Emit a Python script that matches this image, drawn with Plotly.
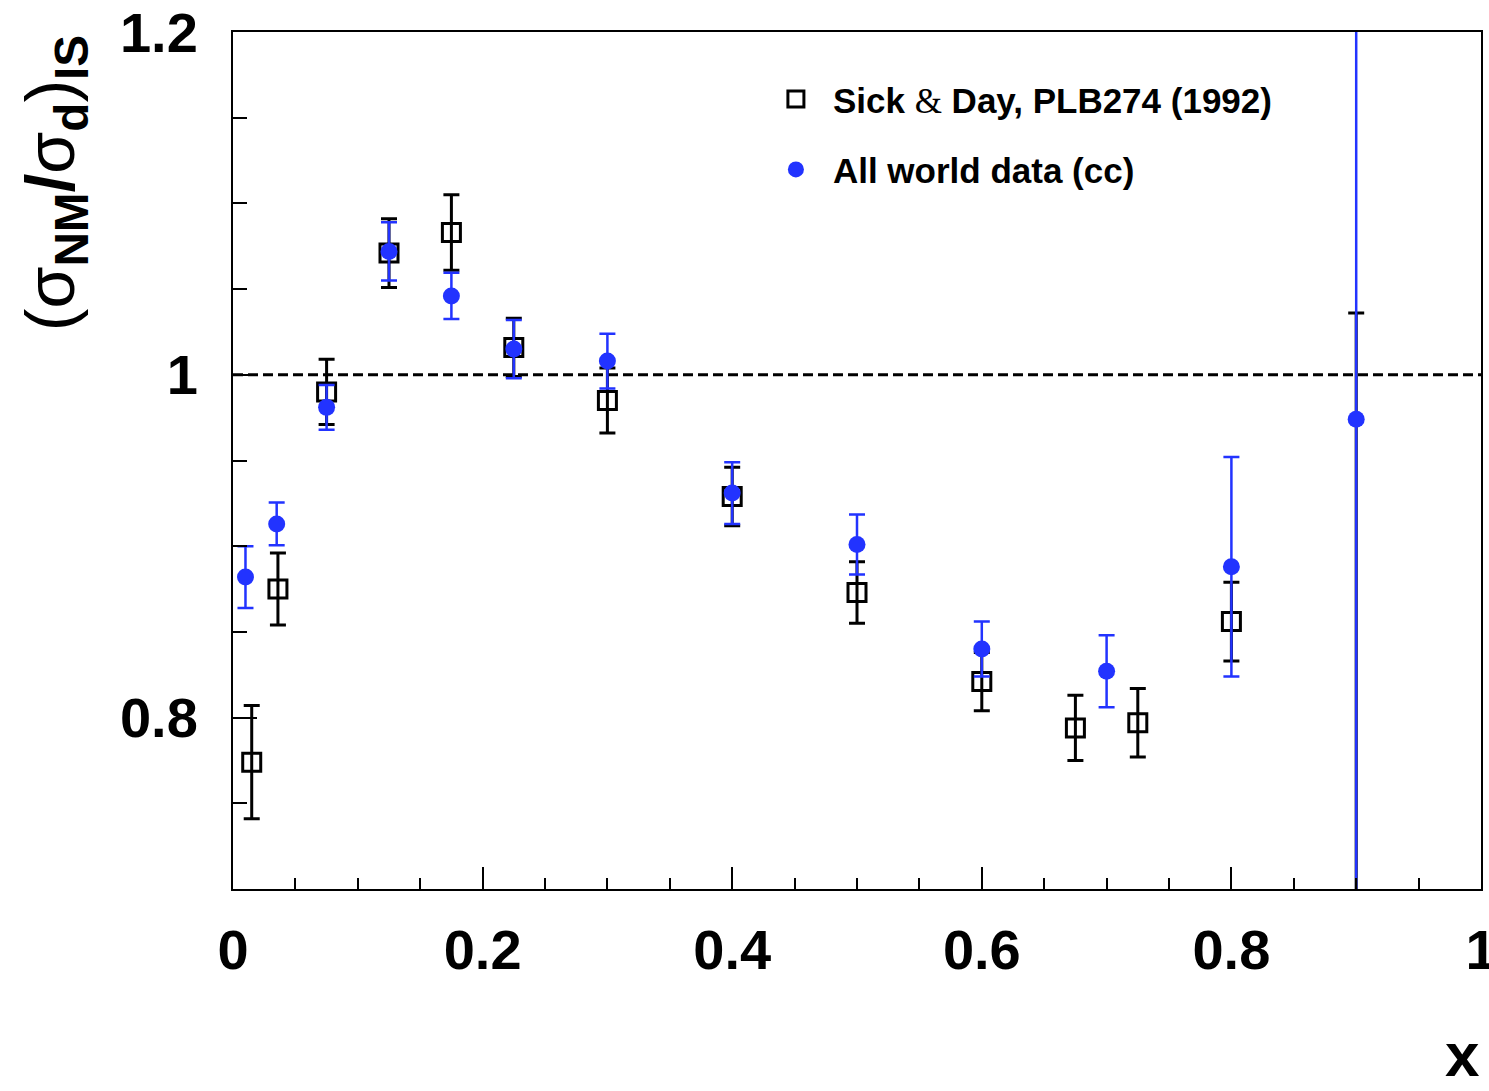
import plotly.graph_objects as go

# Sick & Day, PLB274 (1992)
sd_x = [0.015, 0.036, 0.075, 0.125, 0.175, 0.225, 0.30, 0.40, 0.50, 0.60, 0.675, 0.725, 0.80, 0.90]
sd_y = [0.774, 0.875, 0.990, 1.071, 1.083, 1.016, 0.985, 0.929, 0.873, 0.821, 0.794, 0.797, 0.856, 0.66]
sd_err = [0.033, 0.021, 0.019, 0.020, 0.022, 0.017, 0.019, 0.017, 0.018, 0.017, 0.019, 0.020, 0.023, 0.376]

# All world data (cc)
wd_x = [0.01, 0.035, 0.075, 0.125, 0.175, 0.225, 0.30, 0.40, 0.50, 0.60, 0.70, 0.80, 0.90]
wd_y = [0.882, 0.913, 0.981, 1.072, 1.046, 1.015, 1.008, 0.931, 0.901, 0.840, 0.827, 0.888, 0.974]
wd_err = [0.018, 0.0125, 0.013, 0.017, 0.0135, 0.017, 0.016, 0.018, 0.0175, 0.016, 0.021, 0.064, 0.40]

x_ticks = [0, 0.2, 0.4, 0.6, 0.8, 1]
x_ticklabels = ["0", "0.2", "0.4", "0.6", "0.8", "1"]
y_ticks = [0.8, 1.0, 1.2]
y_ticklabels = ["0.8", "1", "1.2"]

BLUE = "#2233ff"
FONT = "Liberation Sans"

fig = go.Figure()
fig.add_trace(go.Scatter(
    x=sd_x, y=sd_y, mode="markers",
    name="Sick <span style=\"font-family:'Liberation Serif';font-weight:normal\">&amp;</span> Day, PLB274 (1992)",
    legendgroup="a",
    marker=dict(symbol="square-open", size=18, color="black", line=dict(width=3, color="black")),
    error_y=dict(type="data", array=sd_err, color="black", thickness=3, width=8),
))
fig.add_trace(go.Scatter(
    x=wd_x, y=wd_y, mode="markers", name="All world data (cc)",
    legendgroup="b",
    marker=dict(symbol="circle", size=17, color=BLUE),
    error_y=dict(type="data", array=wd_err, color=BLUE, thickness=2.5, width=8),
))

fig.add_shape(type="line", xref="x", yref="y", x0=0, x1=1, y0=1, y1=1,
              line=dict(color="black", width=3, dash="10px,5px"), layer="below")

fig.update_layout(
    width=1489, height=1091,
    margin=dict(l=233, r=8, t=32, b=202),
    paper_bgcolor="white", plot_bgcolor="white",
    font=dict(family=FONT, color="black"),
    showlegend=True,
    legend=dict(x=0.4214, y=0.956, xanchor="left", yanchor="top",
                font=dict(family=FONT, size=35, color="black", weight="bold"),
                bgcolor="rgba(0,0,0,0)", borderwidth=0,
                tracegroupgap=22, traceorder="grouped", itemwidth=64),
)
fig.update_xaxes(range=[0, 1], tickvals=x_ticks, ticktext=x_ticklabels,
                 ticks="inside", ticklen=22, tickwidth=1.5, tickcolor="black",
                 minor=dict(dtick=0.05, ticks="inside", ticklen=11, tickwidth=1.5, tickcolor="black"),
                 showline=True, linewidth=2, linecolor="black", mirror=True,
                 showgrid=False, zeroline=False, automargin=False,
                 ticklabeloverflow="allow",
                 tickfont=dict(family=FONT, size=56, color="black", weight="bold"),
                 ticklabelstandoff=11)
fig.update_yaxes(range=[0.7, 1.2], tickvals=y_ticks, ticktext=y_ticklabels,
                 ticks="inside", ticklen=24, tickwidth=1.5, tickcolor="black",
                 minor=dict(dtick=0.05, ticks="inside", ticklen=14, tickwidth=1.5, tickcolor="black"),
                 showline=True, linewidth=2, linecolor="black", mirror=True,
                 showgrid=False, zeroline=False, automargin=False,
                 ticklabeloverflow="allow",
                 tickfont=dict(family=FONT, size=56, color="black", weight="bold"),
                 ticklabelstandoff=22)

fig.add_annotation(xref="paper", yref="paper", x=-0.143, y=0.823,
                   text="(σ<sub><b>NM</b></sub><b>/</b>σ<sub><b>d</b></sub>)<sub><b>IS</b></sub>",
                   textangle=-90, showarrow=False, xanchor="center", yanchor="middle",
                   font=dict(family=FONT, size=68, color="black"))
fig.add_annotation(xref="paper", yref="paper", x=0.985, y=-0.236,
                   text="<b>x</b>", showarrow=False, xanchor="center", yanchor="bottom",
                   font=dict(family=FONT, size=62, color="black"))

fig.write_html("out.html")
